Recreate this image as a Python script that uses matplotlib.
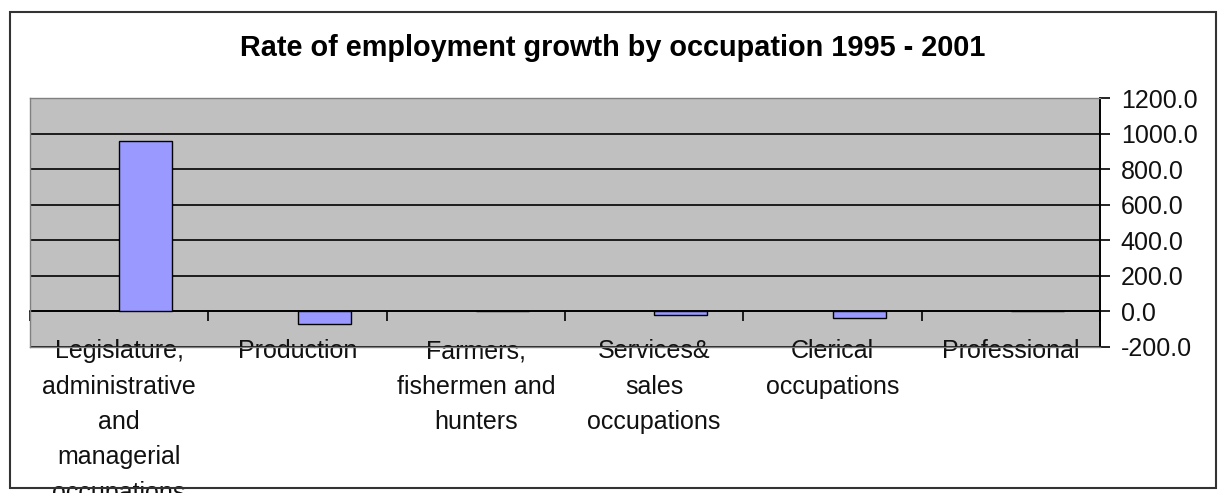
import numpy as np
import matplotlib
matplotlib.use("Agg")
import matplotlib.pyplot as plt
import matplotlib.patches as patches
from matplotlib.ticker import FormatStrFormatter

# Données
categories = [
    "Legislature,\nadministrative\nand\nmanagerial\noccupations",
    "Production",
    "Farmers,\nfishermen and\nhunters",
    "Services&\nsales\noccupations",
    "Clerical\noccupations",
    "Professional",
]
growth = [956.0, -68.0, 0.0, -22.0, -38.0, 0.0]
y_ticks = [-200, 0, 200, 400, 600, 800, 1000, 1200]

plt.rcParams["font.family"] = ["Liberation Sans", "DejaVu Sans"]

fig = plt.figure(figsize=(12.18, 4.93), dpi=100)
ax = fig.add_axes([30 / 1218, 1 - 347 / 493, 1070 / 1218, 249 / 493])

ymin, ymax = -200, 1200
n = len(categories)
x = np.arange(n)

ax.set_facecolor("#C0C0C0")
ax.set_xlim(0, n)
ax.set_ylim(ymin, ymax)
ax.bar(x + 0.5 + 0.15, growth, width=0.297, color="#9999FF",
       edgecolor="black", linewidth=1.0, zorder=3)

ax.set_yticks(y_ticks)
ax.yaxis.grid(True, color="black", linewidth=1.2)
ax.set_axisbelow(True)
ax.yaxis.tick_right()
ax.yaxis.set_major_formatter(FormatStrFormatter("%.1f"))
ax.tick_params(axis="y", direction="out", length=7, width=1.2, color="black",
               labelsize=18, pad=8, labelcolor="#111111")
ax.tick_params(axis="x", bottom=False, labelbottom=False)

for s in ["left", "top", "bottom"]:
    ax.spines[s].set_color("#808080")
    ax.spines[s].set_linewidth(1.0)
ax.spines["right"].set_color("black")
ax.spines["right"].set_linewidth(1.4)

# axe des catégories qui croise à 0
zero_frac = (0 - ymin) / (ymax - ymin)
sec = ax.secondary_xaxis(zero_frac)
sec.spines["bottom"].set_color("black")
sec.spines["bottom"].set_linewidth(1.2)
sec.set_xticks(np.arange(n + 1))
sec.set_xticklabels([])
sec.set_xticks(x + 0.5, categories, minor=True)
sec.tick_params(axis="x", which="major", direction="out", length=7, width=1.2)
sec.tick_params(axis="x", which="minor", length=0, pad=20, labelsize=18,
                labelcolor="#111111")
for lab in sec.get_xticklabels(minor=True):
    lab.set_linespacing(1.6)

fig.text(0.503, 1 - 48 / 493, "Rate of employment growth by occupation 1995 - 2001",
         ha="center", va="center", fontsize=20.8, fontweight="bold")

# cadre extérieur (par-dessus les étiquettes, comme dans l'original)
fig.add_artist(patches.Rectangle(
    (10 / 1218, 5 / 493), 1206 / 1218, 476 / 493, transform=fig.transFigure,
    facecolor="none", edgecolor="#333333", linewidth=1.5, zorder=10))

fig.savefig("out.png", dpi=100)
